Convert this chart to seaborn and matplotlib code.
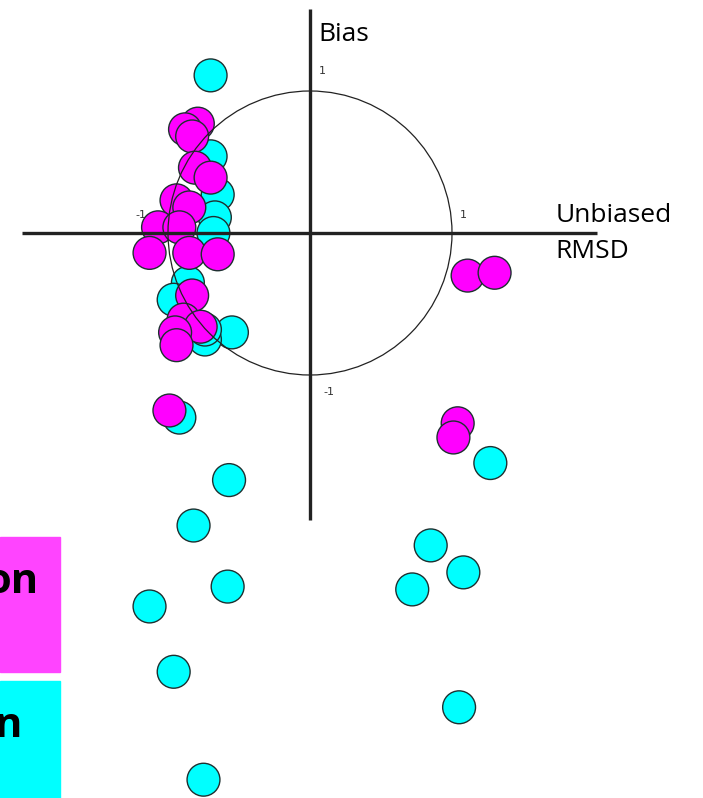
import numpy as np
import pandas as pd
import matplotlib
matplotlib.use('Agg')
import matplotlib.pyplot as plt
import seaborn as sns
from matplotlib.patches import Circle, Rectangle

# normalised target diagram values (x = unbiased RMSD, y = bias)
cyan_x = [-0.70, -0.70, -0.65, -0.67, -0.68, -0.86, -0.96, -0.55, -0.74, -0.74,
          -0.92, -0.57, -0.82, -0.58, -1.13, -0.96, -0.75,
          1.27, 0.85, 1.08, 0.72, 1.05]
cyan_y = [1.11, 0.54, 0.27, 0.11, 0.00, -0.35, -0.47, -0.70, -0.75, -0.68,
          -1.30, -1.74, -2.06, -2.49, -2.63, -3.09, -3.85,
          -1.62, -2.20, -2.39, -2.51, -3.34]
magenta_x = [-0.79, -0.88, -0.83, -0.81, -0.70, -0.94, -0.85, -1.07, -0.92, -1.13,
             -0.85, -0.65, -0.83, -0.89, -0.77, -0.95, -0.94, -0.99,
             1.04, 1.01, 1.11, 1.30]
magenta_y = [0.77, 0.73, 0.68, 0.46, 0.39, 0.23, 0.18, 0.04, 0.04, -0.14,
             -0.14, -0.15, -0.44, -0.61, -0.66, -0.70, -0.79, -1.25,
             -1.34, -1.44, -0.30, -0.28]
groups = ['cyan', 'magenta']
legend_texts = ['on', 'n']

sns.set_theme(style="white")
plt.rcParams['font.family'] = ['Open Sans', 'DejaVu Sans']

df = pd.DataFrame({
    'x': cyan_x + magenta_x,
    'y': cyan_y + magenta_y,
    'grp': ['cyan'] * len(cyan_x) + ['magenta'] * len(magenta_x),
})

W, H = 703, 798
cx, cy, r = 310, 233, 142  # origin and unit radius in pixels

fig = plt.figure(figsize=(W / 100, H / 100), dpi=100)
ax = fig.add_axes([0, 0, 1, 1])
ax.set_xlim(-cx / r, (W - cx) / r)
ax.set_ylim(-(H - cy) / r, cy / r)
ax.axis('off')

sns.scatterplot(data=df, x='x', y='y', hue='grp',
                palette={'cyan': '#00FFFF', 'magenta': '#FF00FF'},
                s=560, edgecolor='#1e3030', linewidth=1.0, alpha=1,
                legend=False, ax=ax, zorder=2)

# unit circle and the cross axes
ax.add_patch(Circle((0, 0), 1, fill=False, edgecolor='#222222', lw=0.9, zorder=3))
ax.plot([(22 - cx) / r, (597 - cx) / r], [0, 0], color='#222222', lw=2.4, zorder=4,
        solid_capstyle='butt')
ax.plot([0, 0], [(cy - 9) / r, (cy - 520) / r], color='#222222', lw=2.4, zorder=4,
        solid_capstyle='butt')

# axis tick labels
tick_kw = dict(fontsize=8, color='#333333', family='DejaVu Sans', ha='center', va='center')
ax.text(0.09, 1.14, '1', **tick_kw)
ax.text(1.08, 0.13, '1', **tick_kw)
ax.text(-1.19, 0.13, '-1', **tick_kw)
ax.text(0.13, -1.12, '-1', **tick_kw)

ax.text(0.06, 1.40, 'Bias', fontsize=19, color='black', ha='left', va='center')
ax.text(1.73, 0.12, 'Unbiased', fontsize=19, color='black', ha='left', va='center')
ax.text(1.73, -0.13, 'RMSD', fontsize=19, color='black', ha='left', va='center')

# legend boxes at the left edge (cut by the figure border)
fig.add_artist(Rectangle((0, 1 - 672 / H), 60 / W, (672 - 537) / H,
                         transform=fig.transFigure, color='#FF44FF', zorder=1))
fig.add_artist(Rectangle((0, 0), 60 / W, (798 - 681) / H,
                         transform=fig.transFigure, color='#00FFFF', zorder=1))
fig.text(38 / W, 1 - 593 / H, legend_texts[0], fontsize=30, fontweight='bold',
         ha='right', va='baseline', color='black')
fig.text(22 / W, 1 - 737 / H, legend_texts[1], fontsize=30, fontweight='bold',
         ha='right', va='baseline', color='black')

fig.savefig('out.png', dpi=100)
